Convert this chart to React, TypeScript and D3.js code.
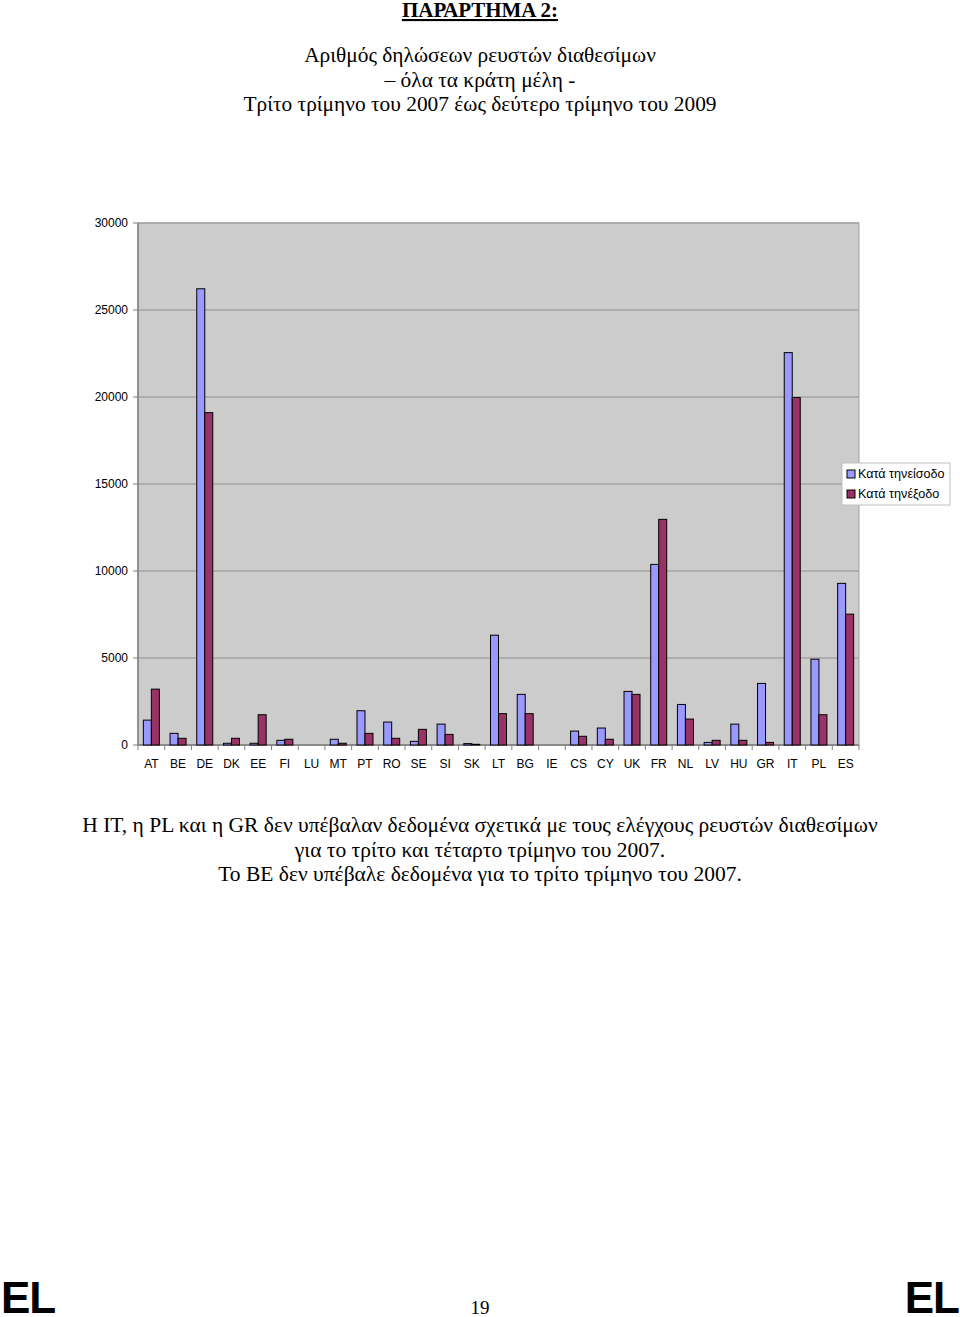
import React from "react";
import * as d3 from "d3";

const categories = ["AT","BE","DE","DK","EE","FI","LU","MT","PT","RO","SE","SI","SK","LT","BG","IE","CS","CY","UK","FR","NL","LV","HU","GR","IT","PL","ES"];
const entryValues = [1430,670,26220,100,100,270,0,330,1970,1320,210,1200,80,6310,2910,0,800,975,3080,10380,2330,150,1200,3540,22550,4930,9290];
const exitValues = [3210,385,19100,385,1740,330,0,100,670,385,900,610,40,1800,1800,0,500,330,2910,12970,1490,270,270,150,19970,1740,7520];
const yTicks = [0,5000,10000,15000,20000,25000,30000];
const seriesNames = ["Κατά τηνείσοδο","Κατά τηνέξοδο"];
const seriesColors = ["#9999ff","#993366"];

const titleLines = ["Αριθμός δηλώσεων ρευστών διαθεσίμων","– όλα τα κράτη μέλη -","Τρίτο τρίμηνο του 2007 έως δεύτερο τρίμηνο του 2009"];
const noteLines = ["Η IT, η PL και η GR δεν υπέβαλαν δεδομένα σχετικά με τους ελέγχους ρευστών διαθεσίμων","για το τρίτο και τέταρτο τρίμηνο του 2007.","Το BE δεν υπέβαλε δεδομένα για το τρίτο τρίμηνο του 2007."];

export default function App() {
  const left = 138, right = 859, top = 223, bottom = 745;
  const x = d3.scaleBand<string>().domain(categories).range([left, right]);
  const y = d3.scaleLinear().domain([0, 30000]).range([bottom, top]);
  const bw = 8;
  const serif = "'Liberation Serif', 'Times New Roman', serif";
  const sans = "'Liberation Sans', Arial, sans-serif";
  const series = [entryValues, exitValues];
  return (
    <svg width={960} height={1317} style={{ position: "absolute", left: 0, top: 0, background: "#fff" }}>
      <text x={480} y={17} textAnchor="middle" fontFamily={serif} fontWeight="bold" fontSize={21} textDecoration="underline">ΠΑΡΑΡΤΗΜΑ 2:</text>
      {titleLines.map((t, i) => (
        <text key={i} x={480} y={62 + i * 24.5} textAnchor="middle" fontFamily={serif} fontSize={21.4}>{t}</text>
      ))}
      <rect x={left} y={top} width={right - left} height={bottom - top} fill="#cccccc" stroke="#a0a0a0" strokeWidth={1} />
      {yTicks.map((t) => (
        <g key={t}>
          <line x1={left} x2={right} y1={y(t)} y2={y(t)} stroke="#a4a4a4" strokeWidth={1.5} />
          <line x1={left - 5} x2={left} y1={y(t)} y2={y(t)} stroke="#808080" />
          <text x={128} y={y(t) + 4} textAnchor="end" fontFamily={sans} fontSize={12}>{t}</text>
        </g>
      ))}
      <line x1={left} x2={left} y1={top} y2={bottom} stroke="#808080" strokeWidth={1.5} />
      <line x1={left} x2={right} y1={bottom} y2={bottom} stroke="#808080" strokeWidth={1.5} />
      {categories.map((c) => (
        <line key={"t" + c} x1={x(c)!} x2={x(c)!} y1={bottom} y2={bottom + 5} stroke="#808080" />
      ))}
      <line x1={right} x2={right} y1={bottom} y2={bottom + 5} stroke="#808080" />
      {categories.map((c, i) => {
        const cx = x(c)! + x.bandwidth() / 2;
        return (
          <g key={c}>
            {series.map((s, k) => {
              const v = s[i];
              if (!v) return null;
              return (
                <rect key={k} x={cx - bw + k * bw} y={y(v)} width={bw} height={bottom - y(v)} fill={seriesColors[k]} stroke="#000" strokeWidth={1} />
              );
            })}
            <text x={cx} y={768} textAnchor="middle" fontFamily={sans} fontSize={12}>{c}</text>
          </g>
        );
      })}
      <rect x={842} y={463} width={108} height={42} fill="#fff" stroke="#c0c0c0" />
      {seriesNames.map((n, k) => (
        <g key={n}>
          <rect x={847} y={470 + k * 20} width={8} height={8} fill={seriesColors[k]} stroke="#000" strokeWidth={1} />
          <text x={858} y={478 + k * 20} fontFamily={sans} fontSize={12.6}>{n}</text>
        </g>
      ))}
      {noteLines.map((t, i) => (
        <text key={i} x={480} y={832 + i * 24.5} textAnchor="middle" fontFamily={serif} fontSize={21.5}>{t}</text>
      ))}
      <text x={1} y={1313} fontFamily={sans} fontWeight="bold" fontSize={44} style={{ letterSpacing: "-1px" }}>EL</text>
      <text x={959} y={1313} textAnchor="end" fontFamily={sans} fontWeight="bold" fontSize={44} style={{ letterSpacing: "-1px" }}>EL</text>
      <text x={480} y={1314} textAnchor="middle" fontFamily={serif} fontSize={19}>19</text>
    </svg>
  );
}
